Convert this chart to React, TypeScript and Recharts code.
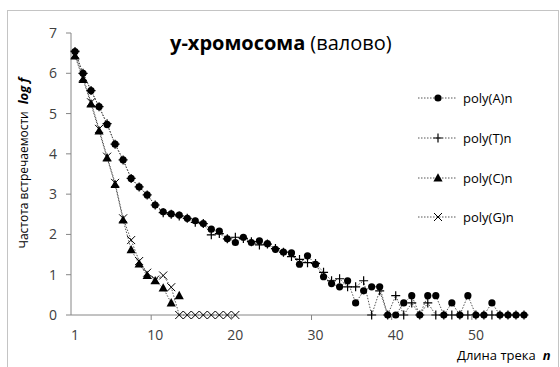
import React from 'react';
import { LineChart, Line, XAxis, YAxis } from 'recharts';

// log f for each track length, first category on the left
const POLY_A = [
  6.54, 6.0, 5.57, 5.17, 4.73, 4.24, 3.85, 3.39, 3.18, 2.98,
  2.73, 2.56, 2.51, 2.48, 2.4, 2.34, 2.27, 2.13, 2.08, 1.89,
  1.8, 1.93, 1.8, 1.84, 1.77, 1.63, 1.56, 1.54, 1.26, 1.47,
  1.26, 0.95, 0.78, 0.7, 0.85, 0.3, 0.6, 0.7, 0.7, 0,
  0, 0.3, 0.48, 0, 0.48, 0.48, 0, 0.3, 0, 0.48,
  0, 0, 0.3, 0, 0, 0, 0,
];
const POLY_T = [
  6.54, 6.0, 5.57, 5.17, 4.75, 4.24, 3.85, 3.39, 3.18, 2.98,
  2.73, 2.54, 2.5, 2.46, 2.4, 2.3, 2.27, 1.99, 2.02, 1.89,
  1.93, 1.9, 1.82, 1.74, 1.76, 1.65, 1.56, 1.45, 1.38, 1.3,
  1.28, 1.06, 0.85, 0.9, 0.7, 0.7, 0.85, 0, 0.6, 0,
  0.48, 0, 0.3, 0, 0.3, 0, 0, 0, 0, 0,
  0, 0, 0, 0, 0, 0, 0,
];
const POLY_C = [6.43, 5.85, 5.24, 4.57, 3.9, 3.24, 2.36, 1.62, 1.27, 0.98, 0.85, 0.67, 0.3, 0.48];
const POLY_G = [
  6.47, 5.9, 5.28, 4.62, 3.93, 3.28, 2.4, 1.86, 1.34, 1.05,
  0.88, 0.98, 0.69, 0, 0, 0, 0, 0, 0, 0, 0,
];

const SERIES_NAMES = ['poly(A)n', 'poly(T)n', 'poly(C)n', 'poly(G)n'];

// category labels sit under every tenth point, tick marks between groups
const X_LABEL_POS = [0, 10, 20, 30, 40, 50];
const X_LABELS = ['1', '10', '20', '30', '40', '50'];
const X_MARK_POS = [9.5, 19.5, 29.5, 39.5, 49.5];
const Y_TICKS = [0, 1, 2, 3, 4, 5, 6, 7];

const FONT = "'Open Sans', 'Noto Sans', sans-serif";
const AXIS_GREY = '#868686';
const LINE_GREY = '#555';

type Shape = 'circle' | 'plus' | 'triangle' | 'cross';

const series: { key: string; name: string; shape: Shape }[] = [
  { key: 'g', name: SERIES_NAMES[3], shape: 'cross' },
  { key: 'c', name: SERIES_NAMES[2], shape: 'triangle' },
  { key: 't', name: SERIES_NAMES[1], shape: 'plus' },
  { key: 'a', name: SERIES_NAMES[0], shape: 'circle' },
];

const rows = POLY_A.map((_, i) => ({
  i,
  a: POLY_A[i] ?? null,
  t: POLY_T[i] ?? null,
  c: POLY_C[i] ?? null,
  g: POLY_G[i] ?? null,
}));

function Marker({ shape, cx, cy }: { shape: Shape; cx: number; cy: number }) {
  switch (shape) {
    case 'circle':
      return <circle cx={cx} cy={cy} r={3.6} fill="#000" />;
    case 'plus':
      return (
        <path
          d={`M${cx - 4.5},${cy}H${cx + 4.5}M${cx},${cy - 4.5}V${cy + 4.5}`}
          stroke="#000"
          strokeWidth={1.2}
          fill="none"
        />
      );
    case 'triangle':
      return <path d={`M${cx},${cy - 4.8}L${cx + 4.6},${cy + 3.6}L${cx - 4.6},${cy + 3.6}Z`} fill="#000" />;
    default:
      return (
        <path
          d={`M${cx - 4},${cy - 4}L${cx + 4},${cy + 4}M${cx - 4},${cy + 4}L${cx + 4},${cy - 4}`}
          stroke="#000"
          strokeWidth={1}
          fill="none"
        />
      );
  }
}

const XTick = (props: any) => {
  const { x, y, payload } = props;
  const k = X_LABEL_POS.indexOf(payload.value);
  if (k < 0) {
    return <line x1={x} y1={y} x2={x} y2={y + 5} stroke={AXIS_GREY} />;
  }
  return (
    <text x={x} y={y + 25} textAnchor="middle" fontSize={14} fontFamily={FONT} fill="#404040">
      {X_LABELS[k]}
    </text>
  );
};

export default function App() {
  return (
    <div
      style={{
        position: 'absolute',
        left: 0,
        top: 0,
        width: 560,
        height: 367,
        background: '#fff',
        overflow: 'hidden',
      }}
    >
      <div
        style={{
          position: 'absolute',
          left: 7,
          top: 10,
          width: 550,
          height: 400,
          border: '1.5px solid #c4c4c4',
        }}
      />
      <LineChart
        width={560}
        height={367}
        data={rows}
        margin={{ top: 33, right: 32, left: 0, bottom: 27 }}
        style={{ position: 'absolute', left: 0, top: 0 }}
      >
        <XAxis
          dataKey="i"
          type="number"
          domain={[-0.5, 56.5]}
          ticks={[...X_MARK_POS, ...X_LABEL_POS]}
          interval={0}
          tick={<XTick />}
          tickLine={false}
          tickSize={0}
          tickMargin={0}
          height={25}
          stroke={AXIS_GREY}
          axisLine={{ stroke: AXIS_GREY }}
        />
        <YAxis
          type="number"
          domain={[0, 7]}
          ticks={Y_TICKS}
          width={71}
          tickSize={5}
          tickMargin={9}
          axisLine={{ stroke: AXIS_GREY }}
          tickLine={{ stroke: AXIS_GREY }}
          tick={{ fontSize: 14, fontFamily: FONT, fill: '#404040' }}
        />
        {series.map((s) => (
          <Line
            key={s.key}
            dataKey={s.key}
            name={s.name}
            type="linear"
            stroke={LINE_GREY}
            strokeWidth={1}
            strokeDasharray="1.5 1.5"
            connectNulls={false}
            isAnimationActive={false}
            activeDot={false}
            dot={(p: any) =>
              p.value == null || p.cy == null ? (
                <g key={`${s.key}-${p.index}`} />
              ) : (
                <g key={`${s.key}-${p.index}`}>
                  <Marker shape={s.shape} cx={p.cx} cy={p.cy} />
                </g>
              )
            }
          />
        ))}
      </LineChart>
      <svg
        width={560}
        height={367}
        style={{ position: 'absolute', left: 0, top: 0, pointerEvents: 'none' }}
        fontFamily={FONT}
      >
        <text x={170} y={50} fontSize={20} fill="#000">
          <tspan fontWeight="bold">у-хромосома</tspan>
          <tspan dx={5}>(валово)</tspan>
        </text>
        <text
          transform="translate(28,163) rotate(-90)"
          textAnchor="middle"
          fontSize={12}
          fill="#000"
        >
          <tspan>Частота встречаемости</tspan>
          <tspan dx={7} fontWeight="bold" fontStyle="italic" fontSize={13}>
            log f
          </tspan>
        </text>
        <text x={457} y={360} fontSize={13} fill="#000">
          <tspan>Длина трека</tspan>
          <tspan dx={7} fontWeight="bold" fontStyle="italic">
            n
          </tspan>
        </text>
        {[...series].reverse().map((s, k) => {
          const cy = [98, 138, 178, 217][k];
          return (
            <g key={s.key}>
              <line x1={418} y1={cy} x2={457} y2={cy} stroke={LINE_GREY} strokeDasharray="1.5 1.5" />
              <Marker shape={s.shape} cx={438} cy={cy} />
              <text x={463} y={cy + 4.5} fontSize={13} fill="#000">
                {s.name}
              </text>
            </g>
          );
        })}
      </svg>
    </div>
  );
}
